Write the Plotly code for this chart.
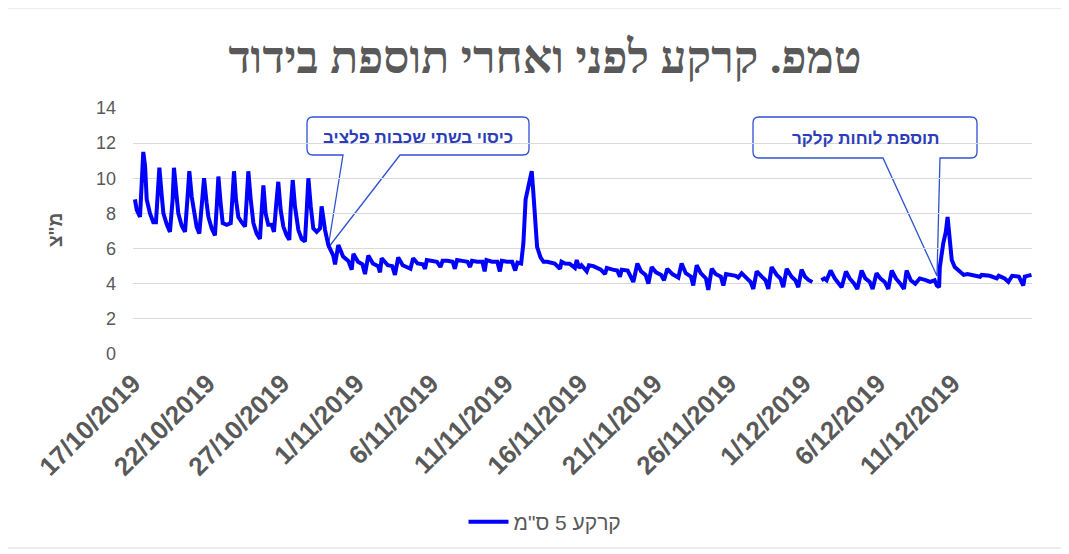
import pandas as pd
import plotly.graph_objects as go

# ---------------- data ----------------
START = "2019-10-17"

# 17/10 - 30/10 : bare soil (days since 17/10/2019 00:00, deg C)
days_bare = [0.13, 0.25, 0.47, 0.58, 0.69, 0.81, 0.92,
             1.14, 1.36, 1.54, 1.63, 1.77, 1.92,
             2.04, 2.26, 2.48, 2.66, 2.75, 2.93,
             3.04, 3.27, 3.49, 3.65, 3.78, 3.94,
             4.09, 4.27, 4.45, 4.61, 4.77, 4.94,
             5.06, 5.28, 5.50, 5.62, 5.73, 5.88,
             6.02, 6.29, 6.56, 6.62, 6.78, 6.91,
             7.07, 7.29, 7.52, 7.63, 7.74, 7.90,
             8.08, 8.30, 8.52, 8.64, 8.75, 8.90,
             9.08, 9.31, 9.46, 9.60, 9.75, 9.91,
             10.09, 10.31, 10.49, 10.58, 10.72, 10.87,
             11.10, 11.32, 11.54, 11.66, 11.77, 11.93,
             12.10, 12.33, 12.55, 12.66, 12.89]
temp_bare = [8.8, 8.2, 7.8, 9.5, 11.5, 10.7, 8.8,
             8.0, 7.5, 7.5, 9.1, 10.6, 9.1,
             8.0, 7.4, 6.95, 8.8, 10.6, 8.95,
             8.0, 7.3, 6.95, 8.8, 10.4, 8.95,
             8.0, 7.25, 6.85, 8.6, 10.0, 8.6,
             7.8, 7.15, 6.75, 8.4, 10.1, 8.6,
             7.45, 7.35, 7.45, 8.2, 10.4, 8.8,
             7.8, 7.5, 7.25, 8.8, 10.4, 8.8,
             7.45, 6.85, 6.55, 8.2, 9.6, 8.0,
             7.35, 7.35, 6.95, 8.4, 9.8, 8.2,
             7.25, 6.75, 6.5, 8.2, 9.9, 8.4,
             7.05, 6.55, 6.4, 8.2, 10.0, 8.4,
             7.15, 6.95, 7.15, 8.4, 7.05]

# 30/10 - 2/12 : covered with two layers of plastic sheet
days_cover = [13.11, 13.44, 13.56, 13.78,
              14.10, 14.45, 14.68, 14.79,
              15.10, 15.40, 15.57, 15.79,
              16.10, 16.45, 16.58, 16.69,
              17.10, 17.40, 17.58, 17.80,
              18.10, 18.50, 18.62, 18.80,
              19.10, 19.45, 19.60, 19.72,
              20.00, 20.40, 20.63, 20.78,
              21.10, 21.45, 21.60, 21.75,
              22.10, 22.45, 22.62, 22.75,
              23.10, 23.45, 23.60, 23.72,
              24.10, 24.45, 24.62, 24.75,
              25.10, 25.45, 25.65, 25.80,
              26.05, 26.20, 26.35, 26.55, 26.76, 26.86, 26.98,
              27.12, 27.35, 27.55, 27.80,
              28.00, 28.30, 28.66, 28.76,
              29.00, 29.30, 29.66, 29.78, 29.95,
              30.10, 30.45, 30.60, 30.90,
              31.20, 31.40, 31.68, 31.80,
              32.20, 32.50, 32.68, 32.80,
              33.20, 33.58, 33.85,
              34.10, 34.40, 34.59, 34.81,
              35.10, 35.45, 35.64, 35.86,
              36.20, 36.50, 36.60, 36.82,
              37.10, 37.45, 37.60, 37.83,
              38.10, 38.45, 38.61, 38.84,
              39.10, 39.45, 39.62, 39.80,
              40.20, 40.45, 40.62, 40.85,
              41.20, 41.45, 41.63, 41.86,
              42.20, 42.45, 42.64, 42.86,
              43.20, 43.45, 43.64, 43.87,
              44.20, 44.45, 44.65, 44.87,
              45.10, 45.35, 45.60]
temp_cover = [6.2, 5.6, 5.1, 6.2,
              5.55, 5.3, 4.8, 5.7,
              5.25, 5.1, 4.55, 5.6,
              5.15, 5.0, 4.65, 5.45,
              5.05, 5.0, 4.5, 5.5,
              5.05, 4.9, 4.85, 5.45,
              5.15, 5.1, 4.85, 5.35,
              5.3, 5.25, 4.95, 5.3,
              5.3, 5.25, 4.85, 5.35,
              5.3, 5.25, 4.95, 5.3,
              5.25, 5.25, 4.7, 5.35,
              5.25, 5.25, 4.7, 5.3,
              5.25, 5.25, 4.75, 5.2,
              5.15, 6.3, 8.8, 9.7, 10.4, 9.3, 7.4,
              6.1, 5.5, 5.25, 5.25,
              5.2, 5.15, 4.85, 5.25,
              5.15, 5.14, 4.9, 5.35, 4.9,
              5.05, 4.7, 5.05, 5.0,
              4.85, 4.8, 4.55, 4.9,
              4.8, 4.75, 4.4, 4.8,
              4.75, 4.1, 5.15,
              4.7, 4.5, 4.0, 4.95,
              4.65, 4.5, 4.2, 4.85,
              4.55, 4.4, 4.35, 5.15,
              4.6, 4.4, 3.9, 5.05,
              4.6, 4.3, 3.65, 4.85,
              4.55, 4.4, 3.9, 4.55,
              4.5, 4.45, 4.35, 4.6,
              4.3, 4.1, 3.7, 4.7,
              4.4, 4.2, 3.7, 4.95,
              4.5, 4.3, 3.8, 4.85,
              4.4, 4.2, 3.8, 4.8,
              4.4, 4.2, 4.1]

# missing readings
days_gap = [45.90]

# 3/12 - 16/12 : after the gap, polystyrene boards added on 11/12
days_after = [46.20, 46.40, 46.55, 46.82,
              47.10, 47.40, 47.56, 47.85,
              48.10, 48.40, 48.61, 48.90,
              49.15, 49.45, 49.64, 49.90,
              50.15, 50.45, 50.69, 50.92,
              51.20, 51.50, 51.74, 51.92,
              52.20, 52.50, 52.80,
              53.20, 53.50, 53.80, 53.95,
              54.10, 54.15, 54.38, 54.55, 54.67, 54.80, 54.95,
              55.15, 55.50, 55.75,
              56.00, 56.40, 56.85, 56.95,
              57.50, 57.97, 58.10, 58.50, 58.75,
              59.00, 59.45, 59.75, 59.85, 60.30]
temp_after = [4.2, 4.3, 4.2, 4.75,
              4.3, 4.0, 3.8, 4.7,
              4.3, 4.0, 3.7, 4.75,
              4.3, 4.1, 3.7, 4.6,
              4.3, 4.1, 3.7, 4.75,
              4.3, 4.0, 3.7, 4.75,
              4.2, 4.0, 4.3,
              4.2, 4.1, 4.2, 3.9,
              3.8, 4.95, 6.3, 6.95, 7.8, 6.5, 5.35,
              4.95, 4.65, 4.5,
              4.55, 4.5, 4.4, 4.5,
              4.45, 4.3, 4.45, 4.3, 4.1,
              4.45, 4.4, 3.9, 4.4, 4.5]

tick_labels = ["17/10/2019", "22/10/2019", "27/10/2019", "1/11/2019",
               "6/11/2019", "11/11/2019", "16/11/2019", "21/11/2019",
               "26/11/2019", "1/12/2019", "6/12/2019", "11/12/2019"]
tick_dates = ["2019-10-17", "2019-10-22", "2019-10-27", "2019-11-01",
              "2019-11-06", "2019-11-11", "2019-11-16", "2019-11-21",
              "2019-11-26", "2019-12-01", "2019-12-06", "2019-12-11"]

series_name = 'קרקע 5 ס"מ'
title_text = "טמפ. קרקע לפני ואחרי תוספת בידוד"
y_title = 'מ"צ'
note_cover = "כיסוי בשתי שכבות פלציב"
note_boards = "תוספת לוחות קלקר"

# ---------------- build ----------------
all_days = days_bare + days_cover + days_gap + days_after
all_temp = temp_bare + temp_cover + [None] + temp_after
times = pd.Timestamp(START) + pd.to_timedelta(all_days, unit="D")

OFF = 8                      # page body margin of the html page
W, H = 1069 - OFF, 554 - OFF
# plot area, in page pixels
PL, PR, PT, PB = 133, 1032, 108, 354


def pp(X, Y):
    """page pixel -> paper coordinates"""
    return (X - PL) / (PR - PL), (PB - Y) / (PB - PT)


def callout_path(x0, x1, y0, y1, wl, wr, tx, ty, r=6):
    def P(X, Y):
        a, b = pp(X, Y)
        return f"{a:.5f},{b:.5f}"
    return (f"M {P(x0 + r, y0)} L {P(x1 - r, y0)} Q {P(x1, y0)} {P(x1, y0 + r)} "
            f"L {P(x1, y1 - r)} Q {P(x1, y1)} {P(x1 - r, y1)} "
            f"L {P(wr, y1)} L {P(tx, ty)} L {P(wl, y1)} "
            f"L {P(x0 + r, y1)} Q {P(x0, y1)} {P(x0, y1 - r)} "
            f"L {P(x0, y0 + r)} Q {P(x0, y0)} {P(x0 + r, y0)} Z")


BLUE_NOTE = "#2F52CF"
GRAY = "#595959"

fig = go.Figure()
fig.add_trace(go.Scatter(
    x=times, y=all_temp, mode="lines", name=series_name,
    line=dict(color="#0000FF", width=4), connectgaps=False,
    showlegend=True,
))

shapes = []
bx0, by0 = pp(7, 8)
bx1, by1 = pp(1062, 548)
shapes.append(dict(type="rect", xref="paper", yref="paper", x0=bx0, y0=by1,
                   x1=bx1, y1=by0, line=dict(color="#D9D9D9", width=1),
                   fillcolor="rgba(0,0,0,0)", layer="below"))
shapes.append(dict(type="path", xref="paper", yref="paper",
                   path=callout_path(307, 529, 117, 155, 343, 400, 328, 248),
                   line=dict(color=BLUE_NOTE, width=1.3), fillcolor="white",
                   layer="between"))
shapes.append(dict(type="path", xref="paper", yref="paper",
                   path=callout_path(753, 977, 117, 158, 883, 940, 937, 276),
                   line=dict(color=BLUE_NOTE, width=1.3), fillcolor="white",
                   layer="between"))

annotations = []
ax, ay = pp(418, 137)
annotations.append(dict(text=f"<b>{note_cover}</b>", xref="paper", yref="paper",
                        x=ax, y=ay, xanchor="center", yanchor="middle", showarrow=False,
                        font=dict(family="Liberation Sans", size=17, color="#2B3DB8")))
ax, ay = pp(865, 138)
annotations.append(dict(text=f"<b>{note_boards}</b>", xref="paper", yref="paper",
                        x=ax, y=ay, xanchor="center", yanchor="middle", showarrow=False,
                        font=dict(family="Liberation Sans", size=17, color="#2B3DB8")))
ax, ay = pp(55, 230)
annotations.append(dict(text=f"<b>{y_title}</b>", xref="paper", yref="paper",
                        x=ax, y=ay, xanchor="center", yanchor="middle", showarrow=False,
                        textangle=-90,
                        font=dict(family="Liberation Sans", size=19, color=GRAY)))

lx, ly = pp(545, 522)

fig.update_layout(
    width=W, height=H,
    margin=dict(l=PL - OFF, r=W - (PR - OFF), t=PT - OFF, b=H - (PB - OFF)),
    paper_bgcolor="white", plot_bgcolor="white",
    title=dict(text=f"<b>{title_text}</b>", x=(545 - OFF) / W, xanchor="center",
               y=1 - (57 - OFF) / H, yanchor="middle", yref="container",
               font=dict(family="Liberation Sans Narrow", size=46, color=GRAY)),
    shapes=shapes, annotations=annotations,
    legend=dict(orientation="h", x=lx, y=ly, xanchor="center", yanchor="middle",
                itemwidth=40,
                font=dict(family="Liberation Sans", size=21, color=GRAY)),
    xaxis=dict(type="date",
               range=[pd.Timestamp(START), pd.Timestamp(START) + pd.Timedelta(days=(PR - PL) / 14.9)],
               tickvals=tick_dates, ticktext=tick_labels, tickangle=-45,
               showgrid=False, showline=False, zeroline=False, ticks="",
               ticklabelstandoff=8,
               tickfont=dict(family="Liberation Sans", size=26, color=GRAY, weight="bold")),
    yaxis=dict(range=[0, 14], dtick=2, tick0=0, showgrid=True,
               gridcolor="#D9D9D9", gridwidth=1, zeroline=False, showline=False,
               ticks="", ticklabelstandoff=16,
               tickfont=dict(family="Liberation Sans", size=18, color=GRAY)),
)

fig.write_html("out.html")
